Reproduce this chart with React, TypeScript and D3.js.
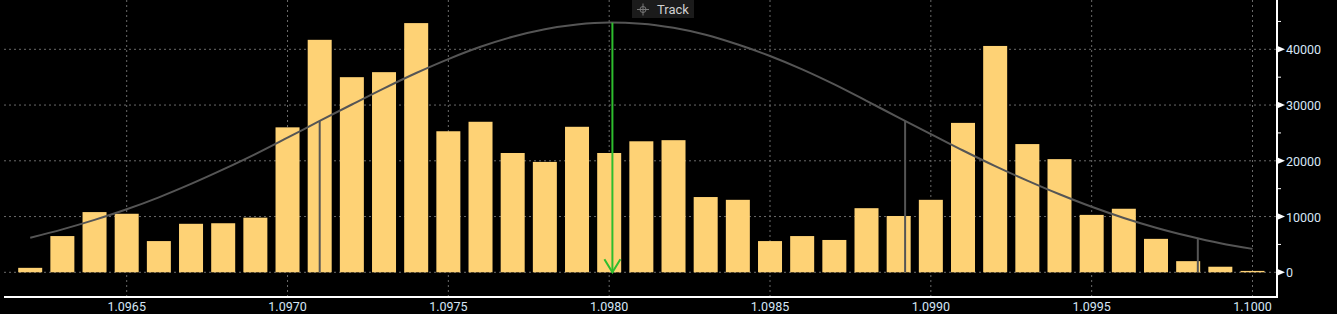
import React from "react";
import * as d3 from "d3";

const binPrices = [
  1.0962, 1.0963, 1.0964, 1.0965, 1.0966, 1.0967, 1.0968, 1.0969, 1.097, 1.0971,
  1.0972, 1.0973, 1.0974, 1.0975, 1.0976, 1.0977, 1.0978, 1.0979, 1.098, 1.0981,
  1.0982, 1.0983, 1.0984, 1.0985, 1.0986, 1.0987, 1.0988, 1.0989, 1.099, 1.0991,
  1.0992, 1.0993, 1.0994, 1.0995, 1.0996, 1.0997, 1.0998, 1.0999, 1.1,
];
const volumes = [
  800, 6500, 10800, 10500, 5600, 8700, 8800, 9800, 26000, 41700,
  35000, 35900, 44700, 25300, 27000, 21400, 19800, 26100, 21400, 23500,
  23700, 13500, 13000, 5600, 6500, 5800, 11500, 10100, 13000, 26800,
  40600, 23000, 20300, 10300, 11400, 6000, 2000, 1000, 250,
];
const curveValues = [
  6200, 7700, 9400, 11300, 13450, 15850, 18450, 21200, 24150, 27150,
  30100, 33000, 35750, 38250, 40450, 42250, 43600, 44450, 44800, 44600,
  43850, 42600, 40850, 38800, 36400, 33700, 30750, 27750, 24800, 21850,
  19050, 16450, 14000, 11750, 9750, 8000, 6500, 5200, 4200,
];
const markerPrices = [1.0971, 1.09892, 1.09983];
const meanPrice = 1.09801;
const xTicks = [1.0965, 1.097, 1.0975, 1.098, 1.0985, 1.099, 1.0995, 1.1];
const yMajorTicks = [0, 10000, 20000, 30000, 40000];
const yMinorTicks = [5000, 15000, 25000, 35000, 45000];

const W = 1337;
const H = 314;
const plotLeft = 4;
const plotRight = 1277;
const plotBottom = 297;

export default function App() {
  const x = d3.scaleLinear().domain([1.0965, 1.1]).range([126.7, 1252.5]);
  const y = d3.scaleLinear().domain([0, 40000]).range([272.3, 49.3]);
  const barW = 24;

  const curve = d3
    .line<number>()
    .x((_, i) => x(binPrices[i]))
    .y((v) => y(v))
    .curve(d3.curveMonotoneX)(curveValues) as string;

  const curveAt = (p: number) => {
    const i = d3.bisectLeft(binPrices, p);
    const i0 = Math.max(0, i - 1);
    const i1 = Math.min(binPrices.length - 1, i);
    if (i0 === i1) return curveValues[i0];
    const t = (p - binPrices[i0]) / (binPrices[i1] - binPrices[i0]);
    return curveValues[i0] + t * (curveValues[i1] - curveValues[i0]);
  };

  const font = "Roboto, 'Open Sans', 'Liberation Sans', sans-serif";
  const labelColor = "#d6e6f6";
  const gridColor = "#6a6a6a";
  const mx = x(meanPrice);
  const meanTop = y(curveAt(meanPrice));
  const base = y(0);

  return (
    <svg
      width={W}
      height={H}
      style={{ position: "absolute", left: 0, top: 0, background: "#000" }}
    >
      <rect x={0} y={0} width={W} height={H} fill="#000" />
      {/* grid */}
      {xTicks.map((t) => (
        <line
          key={"gx" + t}
          x1={x(t)}
          x2={x(t)}
          y1={0}
          y2={plotBottom}
          stroke={gridColor}
          strokeDasharray="2,3"
          strokeWidth={1}
        />
      ))}
      {yMajorTicks.map((t) => (
        <line
          key={"gy" + t}
          x1={plotLeft}
          x2={plotRight}
          y1={y(t)}
          y2={y(t)}
          stroke={gridColor}
          strokeDasharray="2,3"
          strokeWidth={1}
        />
      ))}
      {/* bars */}
      {binPrices.map((p, i) => (
        <rect
          key={"b" + i}
          x={x(p) - barW / 2}
          y={y(volumes[i])}
          width={barW}
          height={base - y(volumes[i])}
          fill="#fed275"
        />
      ))}
      {/* curve */}
      <path d={curve} fill="none" stroke="#555" strokeWidth={2} />
      {/* sigma marker lines */}
      {markerPrices.map((p) => (
        <line
          key={"m" + p}
          x1={x(p)}
          x2={x(p)}
          y1={y(curveAt(p))}
          y2={base}
          stroke="#555"
          strokeWidth={2}
        />
      ))}
      {/* mean arrow */}
      <line x1={mx} x2={mx} y1={meanTop} y2={base} stroke="#2ebd2e" strokeWidth={2} />
      <path
        d={`M${mx - 8},${base - 13} L${mx},${base} L${mx + 8},${base - 13}`}
        fill="none"
        stroke="#2ebd2e"
        strokeWidth={2}
      />
      {/* axes */}
      <line x1={plotLeft} x2={plotRight} y1={plotBottom} y2={plotBottom} stroke="#fff" strokeWidth={2} />
      <line x1={plotRight} x2={plotRight} y1={0} y2={plotBottom + 1} stroke="#fff" strokeWidth={2} />
      {xTicks.map((t) => (
        <text
          key={"xl" + t}
          x={x(t)}
          y={311}
          textAnchor="middle"
          fill={labelColor}
          fontFamily={font}
          fontSize={12.5}
        >
          {d3.format(".4f")(t)}
        </text>
      ))}
      {yMajorTicks.map((t) => (
        <g key={"yl" + t}>
          <path
            d={`M${plotRight},${y(t) - 3.5} L${plotRight + 8},${y(t)} L${plotRight},${y(t) + 3.5} Z`}
            fill="#fff"
          />
          <text
            x={plotRight + 9}
            y={y(t) + 5}
            fill={labelColor}
            fontFamily={font}
            fontSize={12.5}
          >
            {t}
          </text>
        </g>
      ))}
      {yMinorTicks.map((t) => (
        <line
          key={"ym" + t}
          x1={plotRight}
          x2={plotRight + 4}
          y1={y(t)}
          y2={y(t)}
          stroke="#fff"
          strokeWidth={1}
        />
      ))}
      {/* Track label */}
      <rect x={632} y={0} width={62} height={18} fill="#1b1b1b" />
      <g stroke="#777" strokeWidth={1} fill="none">
        <circle cx={643} cy={9.5} r={3} />
        <line x1={637} x2={649} y1={9.5} y2={9.5} />
        <line x1={643} x2={643} y1={3.5} y2={15.5} />
      </g>
      <text x={657} y={14} fill="#d0d0d0" fontFamily={font} fontSize={13}>
        Track
      </text>
    </svg>
  );
}
